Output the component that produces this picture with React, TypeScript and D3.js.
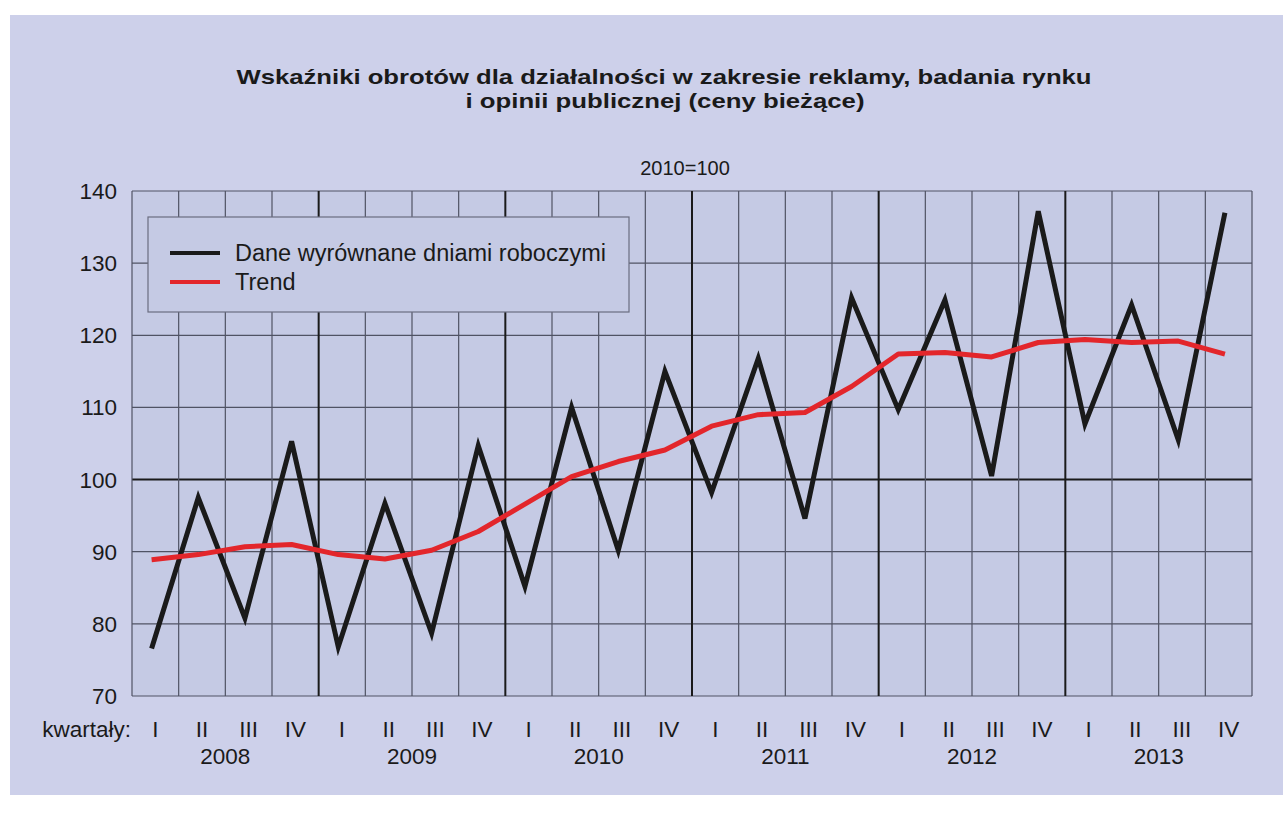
import * as d3 from 'd3'

const years = ['2008', '2009', '2010', '2011', '2012', '2013']
const quarters = ['I', 'II', 'III', 'IV']
const yTicks = [70, 80, 90, 100, 110, 120, 130, 140]

// dane wyrównane dniami roboczymi, kolejne kwartały 2008 I .. 2013 IV
const adjusted = [
  76.6, 97.5, 80.8, 105.3,
  76.8, 96.7, 78.7, 104.7,
  85.2, 110.0, 90.2, 115.0,
  98.2, 116.8, 94.6, 125.2,
  109.7, 124.9, 100.5, 137.2,
  107.7, 124.2, 105.5, 137.0,
]

const trend = [
  88.9, 89.6, 90.7, 91.0,
  89.6, 89.0, 90.2, 92.8,
  96.6, 100.4, 102.5, 104.1,
  107.4, 109.0, 109.3, 112.9,
  117.4, 117.6, 117.0, 119.0,
  119.4, 119.0, 119.2, 117.4,
]

const W = 1283
const H = 823
const font = 'Liberation Sans, Arial, Helvetica, sans-serif'

export default function App() {
  const left = 132, right = 1252, top = 191, bottom = 696
  const n = years.length * quarters.length
  const x = d3.scaleLinear().domain([0, n]).range([left, right])
  const y = d3.scaleLinear().domain([70, 140]).range([bottom, top])

  const line = d3.line<number>()
    .x((_, i) => x(i + 0.42))
    .y(d => y(d))

  const cells = d3.range(n)

  return (
    <svg width={W} height={H} style={{ position: 'absolute', left: 0, top: 0 }}>
      <rect x={0} y={0} width={W} height={H} fill="#ffffff" />
      <rect x={10} y={15} width={W - 10} height={780} fill="#cdd0ea" />

      <text x={664} y={84} textAnchor="middle" fontFamily={font} fontWeight="bold" fontSize={20.5}
        fill="#1a1a1a" textLength={855} lengthAdjust="spacingAndGlyphs">
        Wskaźniki obrotów dla działalności w zakresie reklamy, badania rynku
      </text>
      <text x={665} y={108} textAnchor="middle" fontFamily={font} fontWeight="bold" fontSize={20.5}
        fill="#1a1a1a" textLength={399} lengthAdjust="spacingAndGlyphs">
        i opinii publicznej (ceny bieżące)
      </text>
      <text x={685} y={175} textAnchor="middle" fontFamily={font} fontSize={20} fill="#1a1a1a">
        2010=100
      </text>

      <rect x={left} y={top} width={right - left} height={bottom - top} fill="#c5cae4" />

      {/* siatka */}
      {yTicks.map(t => (
        <line key={'h' + t} x1={left} x2={right} y1={y(t)} y2={y(t)}
          stroke={t === 100 ? '#1a1a1a' : '#505364'} strokeWidth={t === 100 ? 2 : 1.2} />
      ))}
      {d3.range(n + 1).map(i => {
        const major = i % 4 === 0 && i > 0 && i < n
        return (
          <line key={'v' + i} x1={x(i)} x2={x(i)} y1={top} y2={bottom}
            stroke={major ? '#1a1a1a' : '#505364'} strokeWidth={major ? 2 : 1.2} />
        )
      })}

      {yTicks.map(t => (
        <text key={'yl' + t} x={117} y={y(t) + 8} textAnchor="end" fontFamily={font} fontSize={22.5} fill="#1a1a1a">
          {t}
        </text>
      ))}

      {/* legenda */}
      <rect x={148} y={217} width={481} height={95} fill="#c5cae4" stroke="#6a6d80" strokeWidth={1.2} />
      <line x1={170} x2={220} y1={253} y2={253} stroke="#1a1a1a" strokeWidth={4} />
      <line x1={170} x2={220} y1={282} y2={282} stroke="#e3262b" strokeWidth={4} />
      <text x={235} y={261} fontFamily={font} fontSize={23.5} fill="#1a1a1a">Dane wyrównane dniami roboczymi</text>
      <text x={235} y={290} fontFamily={font} fontSize={23.5} fill="#1a1a1a">Trend</text>

      <path d={line(adjusted) ?? ''} fill="none" stroke="#1a1a1a" strokeWidth={5} strokeLinejoin="miter" />
      <path d={line(trend) ?? ''} fill="none" stroke="#e3262b" strokeWidth={5} strokeLinejoin="round" />

      {/* oś X */}
      <text x={131} y={737} textAnchor="end" fontFamily={font} fontSize={22.5} fill="#1a1a1a">kwartały:</text>
      {cells.map(i => (
        <text key={'q' + i} x={x(i + 0.5)} y={737} textAnchor="middle" fontFamily={font} fontSize={22.5} fill="#1a1a1a">
          {quarters[i % 4]}
        </text>
      ))}
      {years.map((yr, j) => (
        <text key={yr} x={x(j * 4 + 2)} y={764} textAnchor="middle" fontFamily={font} fontSize={22.5} fill="#1a1a1a">
          {yr}
        </text>
      ))}
    </svg>
  )
}
